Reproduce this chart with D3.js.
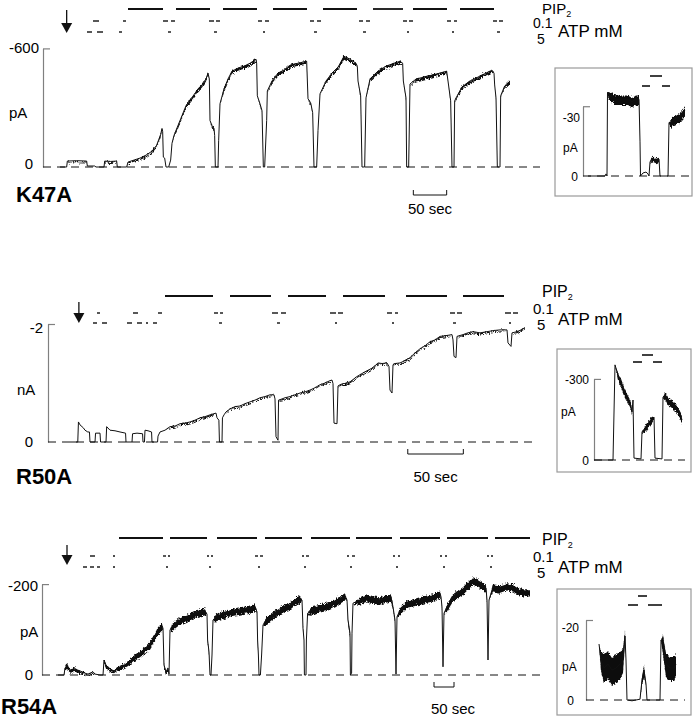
<!DOCTYPE html>
<html><head><meta charset="utf-8">
<script src="https://cdn.jsdelivr.net/npm/d3@7"></script>
<style>
body{margin:0;background:#fff}
svg{display:block;font-family:"Liberation Sans",Arial,Helvetica,sans-serif}
</style>
</head><body>
<svg id="chart" width="695" height="720"></svg>
<script>
// ---------------- DATA ----------------
// Traces: [time (s), current, noise peak-to-peak (same unit)]
const k47aTrace = [[0,0,0],[10,0,0],[11,-30,5],[25,-32,6],[40,-30,5],[41,-5,0],[52,-5,0],[54,0,0],[66,0,0],[67,-30,5],[76,-28,5],[85,-30,5],[86,0,0],[100,0,0],[102,-25,5],[111,-35,8],[120,-45,10],[129,-60,10],[138,-80,10],[145,-110,12],[151,-165,12],[153,-195,10],[154,-180,0],[155,-50,0],[157,-45,0],[159,0,0],[163,0,0],[166,-35,0],[168,-120,0],[171,-160,10],[177,-210,12],[183,-260,12],[189,-310,15],[195,-340,15],[201,-365,15],[207,-395,15],[213,-415,15],[219,-445,15],[222,-475,10],[224,-445,0],[225,-235,0],[228,-210,10],[231,-195,10],[232,-160,0],[233,0,0],[237,0,0],[238,-135,0],[240,-320,0],[246,-395,15],[252,-445,15],[258,-485,15],[267,-500,15],[276,-510,15],[285,-525,15],[294,-545,15],[295,-525,0],[296,-360,0],[300,-320,10],[303,-285,0],[305,0,0],[307,0,0],[310,-235,0],[311,-385,0],[318,-435,15],[327,-475,15],[336,-490,15],[345,-515,15],[357,-525,15],[370,-535,12],[372,-345,0],[376,-325,10],[379,-275,0],[381,0,0],[385,0,0],[387,-185,0],[390,-370,0],[399,-435,15],[408,-475,15],[417,-505,15],[426,-560,15],[435,-545,15],[444,-525,15],[446,-510,0],[447,-435,0],[451,-360,10],[453,0,0],[457,0,0],[459,-350,0],[465,-445,15],[477,-485,15],[489,-510,15],[501,-525,15],[510,-535,15],[514,-525,0],[515,-435,0],[519,-350,10],[520,0,0],[523,0,0],[525,-420,0],[534,-445,15],[546,-455,15],[558,-465,15],[570,-475,15],[580,-485,12],[582,-435,0],[586,-335,10],[588,0,0],[591,0,0],[592,-335,0],[595,-355,10],[603,-405,15],[615,-435,15],[627,-455,15],[639,-475,15],[648,-490,15],[651,-475,0],[652,-415,0],[654,-350,10],[656,0,0],[660,0,0],[661,-360,0],[667,-410,15],[675,-435,15]];

const r50aTrace = [[0,0,0],[7,0,0],[7.6,-0.34,0],[9,-0.29,0],[12,-0.24,0],[13.5,-0.20,0],[16,-0.17,0],[17.5,-0.17,0],[18,0,0],[22.5,0,0],[23,-0.15,0],[27,-0.15,0],[27.5,0,0],[32.4,0,0],[33,-0.26,0],[36,-0.20,0],[40.5,-0.19,0],[45,-0.17,0],[50,-0.15,0],[50.4,0,0],[55.8,0,0],[56.3,-0.14,0],[60.3,-0.15,0],[65.3,-0.14,0],[65.7,0,0],[67,0,0],[67.5,-0.20,0],[70.2,-0.19,0],[73.4,-0.17,0],[73.8,0,0],[78.8,0,0],[79.2,-0.10,0],[81,-0.17,0],[85.5,-0.20,0],[90,-0.26,0.02],[94.5,-0.27,0.02],[99,-0.31,0.02],[103.5,-0.32,0.02],[108,-0.34,0.02],[112.5,-0.37,0.02],[117,-0.41,0.02],[121.5,-0.43,0.02],[126,-0.46,0.02],[129.6,-0.48,0.02],[131.4,-0.49,0],[132.3,-0.41,0],[134,-0.37,0],[134.5,0,0],[136.8,0,0],[137.2,-0.41,0],[138.6,-0.46,0],[140.4,-0.51,0],[144,-0.56,0.02],[148.5,-0.60,0.02],[153,-0.61,0.02],[157.5,-0.65,0.02],[162,-0.68,0.02],[166.5,-0.71,0.02],[171,-0.75,0.02],[175.5,-0.77,0.02],[180,-0.80,0.02],[183.6,-0.80,0],[184.5,-0.73,0],[185.4,-0.09,0],[187.2,-0.03,0],[187.7,-0.71,0],[190.8,-0.73,0.02],[193.5,-0.75,0.02],[198,-0.77,0.02],[202.5,-0.80,0.02],[207,-0.83,0.02],[211.5,-0.85,0.02],[216,-0.88,0.02],[220.5,-0.92,0.02],[225,-0.97,0.02],[229.5,-1.00,0.02],[234,-1.04,0.02],[235.8,-1.05,0],[236.7,-0.99,0],[237.6,-0.32,0],[240.3,-0.31,0],[241.2,-0.95,0],[243,-0.97,0.02],[245.7,-0.99,0.02],[247.5,-0.99,0.02],[252,-1.02,0.02],[258.3,-1.11,0.02],[265.5,-1.19,0.02],[272.7,-1.26,0.02],[277.2,-1.34,0.02],[280.8,-1.33,0.02],[285.3,-1.34,0.02],[287.1,-1.28,0],[288,-0.88,0],[289.8,-0.83,0],[290.7,-1.31,0],[292.5,-1.33,0.02],[297,-1.34,0.02],[301.5,-1.38,0.02],[306,-1.43,0.02],[310.5,-1.51,0.02],[315,-1.58,0.02],[319.5,-1.63,0.02],[324,-1.70,0.02],[328.5,-1.73,0.02],[333,-1.79,0.02],[337.5,-1.80,0.02],[343.8,-1.82,0],[344.7,-1.73,0],[345.6,-1.45,0],[347.4,-1.43,0],[348.3,-1.79,0],[353.7,-1.82,0.02],[358,-1.85,0.02],[362.7,-1.87,0.02],[369,-1.85,0.02],[375.3,-1.87,0.02],[381.6,-1.89,0.02],[387,-1.90,0.02],[393.3,-1.90,0],[394.2,-1.68,0],[396.9,-1.62,0],[397.8,-1.85,0],[402.3,-1.87,0.02],[405.9,-1.90,0.02],[409.5,-1.94,0.02]];

const r54aTrace = [[0,0,0],[15,0,0],[17.5,-15,8],[22.5,-22,12],[30,-11,8],[42.5,-13,8],[55,-9,6],[67.5,-4,4],[75,-2,2],[87.5,-7,4],[92.5,-2,0],[105,0,0],[112.5,0,0],[115,-33,6],[120,-22,8],[130,-13,8],[140,-9,6],[147.5,-15,8],[160,-20,10],[170,-24,10],[180,-31,12],[192.5,-40,14],[205,-48,14],[217.5,-57,14],[230,-68,16],[242.5,-86,16],[250,-99,16],[260,-108,16],[262.5,-103,0],[265,-22,10],[270,-7,6],[275,-15,8],[277.5,-2,0],[280,-99,0],[285,-106,16],[295,-114,16],[305,-121,16],[317.5,-125,16],[330,-130,16],[342.5,-136,16],[355,-139,16],[367.5,-141,16],[372.5,-134,0],[374,-77,8],[377.5,-51,8],[380,0,0],[382.5,0,0],[385,-44,0],[387.5,-121,0],[395,-128,16],[405,-132,16],[417.5,-136,16],[430,-139,16],[442.5,-141,16],[455,-143,16],[467.5,-145,16],[480,-147,16],[492.5,-150,16],[497.5,-139,0],[499,-77,10],[501,-44,0],[502.5,0,0],[506,0,0],[509,-44,0],[512.5,-110,0],[520,-121,16],[530,-128,16],[542.5,-136,16],[555,-143,16],[567.5,-150,16],[580,-154,16],[592.5,-163,16],[605,-169,16],[610,-165,0],[612.5,-103,8],[615,-77,0],[616,0,0],[620,0,0],[621,-77,0],[624,-136,0],[632.5,-143,16],[642.5,-145,16],[655,-150,16],[667.5,-152,16],[680,-156,16],[692.5,-161,16],[705,-167,16],[717.5,-174,16],[722.5,-165,0],[725,-121,10],[730,-92,10],[731,0,0],[734,-4,0],[735,-92,0],[737.5,-158,0],[755,-165,16],[772.5,-172,16],[790,-167,16],[805,-165,16],[820,-169,16],[832.5,-172,16],[837.5,-150,8],[842.5,-121,8],[845,-2,0],[847.5,-128,0],[855,-143,16],[872.5,-158,16],[887.5,-161,16],[905,-165,16],[922.5,-169,16],[937.5,-172,16],[955,-180,16],[957.5,-172,0],[960,-150,8],[962.5,-18,0],[965,-136,0],[972.5,-150,16],[987.5,-172,16],[1000,-180,16],[1012.5,-187,16],[1025,-198,16],[1037.5,-209,16],[1050,-205,16],[1062.5,-198,16],[1070,-191,16],[1072.5,-165,8],[1075,-33,0],[1077.5,-165,0],[1087.5,-194,16],[1105,-191,16],[1122.5,-196,16],[1137.5,-194,16],[1150,-187,16],[1162.5,-183,16],[1180,-183,16]];

// inset traces [time (s), pA, noise]
const k47aInset = [[0,0,0],[17,0,0],[18,-0.9,0],[19,0,0],[19.5,-36,0],[21,-35,4],[24,-34,4],[28,-33,4],[32,-33,4],[36,-33,4],[40,-33,4],[44,-32,4],[48,-33,4],[51,-33,4],[52,-15,0],[52.5,0,0],[55,-1.3,0],[58,-1.7,0],[60,-0.9,0],[61,0,0],[62,-6,0],[64,-7.7,2],[68,-6.9,2],[71,-7.3,2],[72,0,0],[80,0,0],[81,-23,0],[83,-23,4],[85,-24,4],[89,-25,4],[93,-26,4],[97,-28,4]];
const r50aInset = [[0,0,0],[19,0,0],[21,-352,0],[24,-315,25],[27,-289,30],[30,-259,30],[33,-237,30],[36,-215,30],[38,-178,20],[39,-222,0],[40,-7,0],[47,-4,0],[48,-104,0],[51,-118,25],[54,-133,25],[57,-148,25],[60,-159,15],[61,-7,0],[68,-4,0],[69,-233,0],[71,-241,25],[74,-222,30],[78,-211,30],[82,-196,30],[86,-174,30],[88,-148,20]];
const r54aInset = [[11,-14,0],[13,-10,5],[16,-8,7],[20,-9,7],[24,-7.5,7],[28,-8,7],[32,-9,7],[35,-10,6],[37,-16,3],[38,-10,0],[39,0,0],[44,0.2,0],[52,-0.2,0],[54,-5,2],[56,-7.5,3],[58,-4,0],[59,0,0],[72,0,0],[73,-15,0],[75,-14,5],[78,-9,6],[82,-8,6],[86,-8,6],[88,-9,5]];

// solution bars [start, end] in seconds
const k47aPIP2 = [[102,154.5],[174,225],[244.5,295.5],[319.5,370.5],[394.5,445.5],[469.5,514.5],[529.5,580.5],[600,651]];
const k47aATP01 = [[49.5,58.5],[94.5,99],[154.5,162],[166.5,172.5],[223.5,231],[234,240],[297,303],[307.5,313.5],[375,381],[385.5,391.5],[448.5,454.5],[459,465],[514.5,520.5],[523.5,529.5],[580.5,586.5],[591,595.5],[649.5,655.5],[658.5,664.5]];
const k47aATP5 = [[40.5,48],[55.5,64.5],[88.5,93],[162,166.5],[231,235.5],[304.5,307.5],[381,385.5],[454.5,459],[520.5,523.5],[588,591],[655.5,660]];

const r50aPIP2 = [[85.5,128.7],[144,180.9],[196.2,230.4],[245.7,283.5],[302.4,339.3],[353.7,390.6]];
const r50aATP01 = [[24.3,27],[56.7,61.2],[79.2,82.8],[129.6,133.2],[135,137.7],[181.8,187.2],[189.9,194.4],[234,239.4],[241.2,245.7],[285.3,289.8],[292.5,295.2],[342,346.5],[348.3,352.8],[391.5,396.9],[398.7,403.2]];
const r50aATP5 = [[20.7,24.3],[28.8,33.3],[51.3,55.8],[60.3,64.8],[68.4,70.2],[74.7,78.3],[134.1,136.8],[186.3,189],[238.5,240.3],[289.8,291.6],[344.7,347.4],[395.1,396.9]];

const r54aPIP2 = [[152.5,262.5],[280,372.5],[397.5,497.5],[517.5,610],[632.5,730],[745,835],[855,955],[972.5,1075],[1092.5,1180]];
const r54aATP01 = [[80,92.5],[137.5,142.5],[262.5,270],[275,280],[372.5,377.5],[382.5,387.5],[492.5,500],[505,512.5],[610,615],[620,627.5],[722.5,727.5],[735,742.5],[837.5,842.5],[850,855],[955,960],[967.5,972.5],[1072.5,1077.5],[1082.5,1087.5]];
const r54aATP5 = [[62.5,72.5],[80,90],[97.5,105],[137.5,142.5],[270,275],[377.5,382.5],[500,505],[615,620],[730,735],[845,850],[962.5,967.5],[1080,1085]];

const k47aInsetBars = {top:[[62,74]], bottom:[[54,62],[74,82]]};
const r50aInsetBars = {top:[[48,59]], bottom:[[39,48],[59,68]]};
const r54aInsetBars = {top:[[50,59]], bottom:[[40,50],[60,74]]};

const mutants = ["K47A","R50A","R54A"];
const axisMax = [-600,-2,-200];
const axisUnits = ["pA","nA","pA"];
const insetMax = [-30,-300,-20];
const arrowTimes = [10,8,22.5];
const scaleBarSec = 50;
const scaleBarStart = [530,304,940];

// ---------------- DRAW ----------------
const svg = d3.select("#chart");
const ink = "#111";
const axisCol = "#808080";

// rendering texture for recording noise (visual only, vertical jitter)
const defs = svg.append("defs");
const filt = defs.append("filter").attr("id","jag").attr("filterUnits","userSpaceOnUse")
  .attr("x",0).attr("y",0).attr("width",695).attr("height",720);
filt.append("feTurbulence").attr("type","turbulence").attr("baseFrequency","1.1 0.4").attr("numOctaves",2).attr("seed",7).attr("result","t");
filt.append("feColorMatrix").attr("in","t").attr("type","matrix")
  .attr("values","0 0 0 0 0.5  0 1 0 0 0  0 0 1 0 0  0 0 0 0 1").attr("result","t2");
filt.append("feDisplacementMap").attr("in","SourceGraphic").attr("in2","t2").attr("scale",5).attr("xChannelSelector","R").attr("yChannelSelector","G");

function drawTrace(g, data, x, y, w) {
  const area = d3.area().x(d => x(d[0])).y0(d => y(d[1] - (d[2]||0)/2)).y1(d => y(d[1] + (d[2]||0)/2));
  g.append("path").attr("d", area(data)).attr("fill", ink).attr("stroke", "none").attr("filter","url(#jag)");
  const line = d3.line().x(d => x(d[0])).y(d => y(d[1]));
  g.append("path").attr("d", line(data)).attr("fill", "none").attr("stroke", ink).attr("stroke-width", w || 1);
}

function drawBars(g, segs, x, yPos, w) {
  g.selectAll(null).data(segs).join("line")
    .attr("x1", d => x(d[0])).attr("x2", d => x(d[1]))
    .attr("y1", yPos).attr("y2", yPos)
    .attr("stroke", ink).attr("stroke-width", w);
}

function drawAxis(g, y, axisX, tickLen) {
  const ax = d3.axisRight(y).tickValues([y.domain()[1]]).tickSizeInner(tickLen).tickSizeOuter(0).tickFormat("");
  const a = g.append("g").attr("transform", `translate(${axisX},0)`).call(ax);
  a.selectAll("path,line").attr("stroke", axisCol).attr("stroke-width", 1.2);
}

const panels = [
  {trace:k47aTrace, pip:k47aPIP2, a01:k47aATP01, a5:k47aATP5, xDomain:[0,700], xRange:[60,60+700/1.5], yRange:[167,48.4],
   axisX:43, baseEnd:720, pipY:9, a01Y:21, a5Y:32, arrowTop:10, arrowTip:33, labelY:202, barY:195, barTextY:214,
   legY:[14,28,44,37], legFs:[15,14,14], topLabX:39, topLabDy:5, unitX:9, unitY:118, zeroDy:2, lw:1},
  {trace:r50aTrace, pip:r50aPIP2, a01:r50aATP01, a5:r50aATP5, xDomain:[0,450], xRange:[70,70+450/0.9], yRange:[442,324],
   axisX:48, baseEnd:420, pipY:296, a01Y:313, a5Y:323, arrowTop:302, arrowTip:323, labelY:484, barY:454, barTextY:482,
   legY:[297,314,330,325], legFs:[16,15,15], topLabX:43, topLabDy:9, unitX:17, unitY:395, zeroDy:5, lw:1},
  {trace:r54aTrace, pip:r54aPIP2, a01:r54aATP01, a5:r54aATP5, xDomain:[0,1200], xRange:[58,58+1200/2.5], yRange:[675,675-200/2.2],
   axisX:42, baseEnd:1205, pipY:538, a01Y:556, a5Y:567, arrowTop:545, arrowTip:565, labelY:714, barY:687, barTextY:714,
   legY:[545,562,578,573], legFs:[16,15,15], topLabX:38, topLabDy:7, unitX:20, unitY:637, zeroDy:5, lw:1}
];

panels.forEach((p, i) => {
  const g = svg.append("g");
  const x = d3.scaleLinear().domain(p.xDomain).range(p.xRange);
  const y = d3.scaleLinear().domain([0, axisMax[i]]).range(p.yRange);

  drawAxis(g, y, p.axisX, 7);
  g.append("line").attr("x1", p.axisX).attr("x2", x(p.baseEnd)).attr("y1", y(0)).attr("y2", y(0))
    .attr("stroke", ink).attr("stroke-width", 1).attr("stroke-dasharray", "8,6");

  drawTrace(g, p.trace, x, y, p.lw);

  drawBars(g, p.pip, x, p.pipY, 1.8);
  drawBars(g, p.a01, x, p.a01Y, 1.4);
  drawBars(g, p.a5, x, p.a5Y, 1.4);

  const ax = x(arrowTimes[i]);
  g.append("line").attr("x1", ax).attr("x2", ax).attr("y1", p.arrowTop).attr("y2", p.arrowTip - 6).attr("stroke", ink).attr("stroke-width", 1.3);
  g.append("path").attr("d", `M${ax-5.5},${p.arrowTip-10}L${ax+5.5},${p.arrowTip-10}L${ax},${p.arrowTip}Z`).attr("fill", ink);

  g.append("text").attr("x", p.topLabX).attr("y", y(axisMax[i]) + p.topLabDy).attr("text-anchor", "end")
    .attr("font-size", 15).text(String(axisMax[i]));
  g.append("text").attr("x", 33).attr("y", y(0) + p.zeroDy).attr("text-anchor", "end").attr("font-size", 15).text("0");
  g.append("text").attr("x", p.unitX).attr("y", p.unitY).attr("font-size", 15).text(axisUnits[i]);

  g.append("text").attr("x", i === 2 ? 1 : 16).attr("y", p.labelY).attr("font-size", 22).attr("font-weight", "bold").text(mutants[i]);

  const bx0 = x(scaleBarStart[i]), bx1 = x(scaleBarStart[i] + scaleBarSec);
  g.append("path").attr("d", `M${bx0},${p.barY-5}V${p.barY}H${bx1}V${p.barY-5}`).attr("fill", "none").attr("stroke", ink).attr("stroke-width", 1);
  g.append("text").attr("x", (bx0 + bx1) / 2 + (i === 2 ? 9 : 0)).attr("y", p.barTextY).attr("text-anchor", "middle").attr("font-size", 15).text("50 sec");

  const lt = g.append("text").attr("x", 542).attr("y", p.legY[0]).attr("font-size", p.legFs[0]);
  lt.append("tspan").text("PIP");
  lt.append("tspan").attr("font-size", 9).attr("dy", 3).text("2");
  g.append("text").attr("x", 533).attr("y", p.legY[1]).attr("font-size", p.legFs[1]).text("0.1");
  g.append("text").attr("x", 537).attr("y", p.legY[2]).attr("font-size", p.legFs[2]).text("5");
  g.append("text").attr("x", 558).attr("y", p.legY[3]).attr("font-size", 17).text("ATP mM");
});

const insets = [
  {trace:k47aInset, bars:k47aInsetBars, box:[555,68,137,128], axisX:583, xRange:[588,698], yRange:[176,176-30/0.43], baseEnd:103, topY:76, botY:86, labX:580, topDy:16, unitX:563, unitY:152, zeroX:578},
  {trace:r50aInset, bars:r50aInsetBars, box:[557,349,134,123], axisX:594, xRange:[594,694], yRange:[460,460-300/3.7], baseEnd:91, topY:355, botY:362, labX:589, topDy:5, unitX:561, unitY:416, zeroX:589},
  {trace:r54aInset, bars:r54aInsetBars, box:[557,589,134,126], axisX:586, xRange:[588,688], yRange:[700,620], baseEnd:97, topY:596, botY:605, labX:579, topDy:12, unitX:562, unitY:671, zeroX:574}
];

insets.forEach((p, i) => {
  const g = svg.append("g");
  g.append("rect").attr("x", p.box[0]).attr("y", p.box[1]).attr("width", p.box[2]).attr("height", p.box[3])
    .attr("fill", "none").attr("stroke", "#9a9a9a").attr("stroke-width", 1.2);
  const x = d3.scaleLinear().domain([0,100]).range([p.xRange[0], p.xRange[0] + 100]);
  const y = d3.scaleLinear().domain([0, insetMax[i]]).range(p.yRange);
  const axX = p.axisX;
  const ax = d3.axisRight(y).tickValues([insetMax[i]]).tickSizeInner(7).tickSizeOuter(0).tickFormat("");
  const a = g.append("g").attr("transform", `translate(${axX},0)`).call(ax);
  a.selectAll("path,line").attr("stroke", axisCol).attr("stroke-width", 1.2);
  g.append("line").attr("x1", axX).attr("x2", x(p.baseEnd)).attr("y1", y(0)).attr("y2", y(0))
    .attr("stroke", ink).attr("stroke-width", 1).attr("stroke-dasharray", "8,6");
  drawTrace(g, p.trace, x, y, 1);
  drawBars(g, p.bars.top, x, p.topY, 1.6);
  drawBars(g, p.bars.bottom, x, p.botY, 1.6);
  g.append("text").attr("x", p.labX).attr("y", y(insetMax[i]) + p.topDy).attr("text-anchor", "end").attr("font-size", 12).text(String(insetMax[i]));
  g.append("text").attr("x", p.zeroX).attr("y", y(0) + 5).attr("text-anchor", "end").attr("font-size", 12).text("0");
  g.append("text").attr("x", p.unitX).attr("y", p.unitY).attr("font-size", 12).text("pA");
});
</script>
</body></html>
